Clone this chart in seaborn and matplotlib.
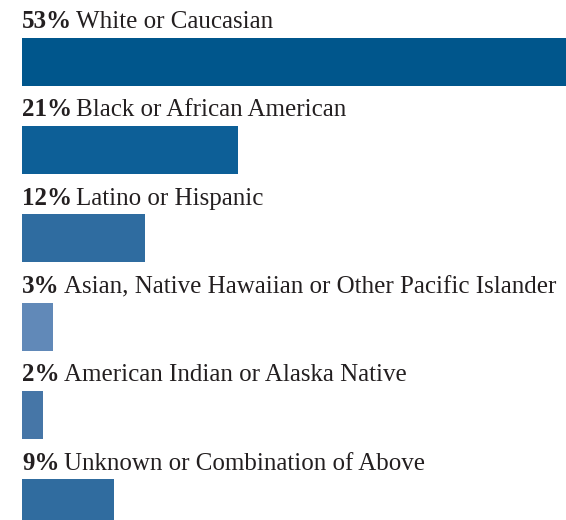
import matplotlib
matplotlib.use("Agg")
import matplotlib.pyplot as plt
import seaborn as sns
import pandas as pd

# data
groups = ['White or Caucasian', 'Black or African American', 'Latino or Hispanic',
          'Asian, Native Hawaiian or Other Pacific Islander',
          'American Indian or Alaska Native', 'Unknown or Combination of Above']
shares = [53, 21, 12, 3, 2, 9]
bar_colors = ['#00568c', '#0d5f97', '#2f6ca0', '#6189b8', '#4676a7', '#306c9f']

df = pd.DataFrame({'group': groups, 'share': shares})

sns.set_style('white')
plt.rcParams['font.family'] = ['Liberation Serif', 'DejaVu Serif']

fig = plt.figure(figsize=(5.66, 5.20), dpi=100)
ax = fig.add_axes([22 / 566, 0, 1 - 22 / 566, 1])

sns.barplot(data=df, x='share', y='group', hue='group', palette=bar_colors,
            orient='h', width=0.545, legend=False, ax=ax, saturation=1,
            linewidth=0)

ax.set_xlim(0, max(shares))
ax.set_ylim(5.19, -0.70)
ax.axis('off')

txt_color = '#231f20'
for i, (g, s) in enumerate(zip(groups, shares)):
    t = ax.text(0, i - 0.325, f'{s}%', fontsize=18, fontweight='bold',
                color=txt_color, va='bottom', ha='left')
    ax.annotate(g, xy=(1, 0), xycoords=t, xytext=(3, 0), textcoords='offset points',
                fontsize=18, color=txt_color, va='bottom', ha='left')

fig.savefig('out.png', dpi=100)
